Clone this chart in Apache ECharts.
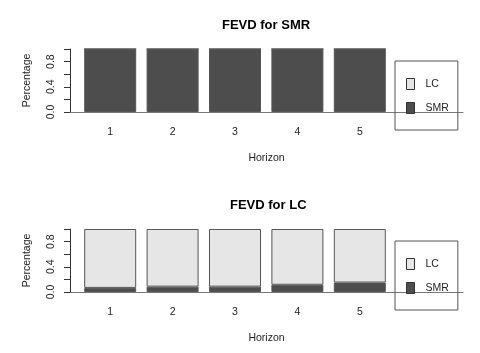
<!DOCTYPE html>
<html>
<head>
<meta charset="utf-8">
<script src="https://cdn.jsdelivr.net/npm/echarts@6/dist/echarts.min.js"></script>
<style>html,body{margin:0;padding:0;background:#fff;}#c{width:480px;height:353px;}</style>
</head>
<body>
<div id="c"></div>
<script>
const horizons = ['1', '2', '3', '4', '5'];
const seriesNames = ['LC', 'SMR'];
const titles = ['FEVD for SMR', 'FEVD for LC'];
// panel 1: FEVD for SMR
const smrPanelSMR = [1, 1, 1, 1, 1];
const smrPanelLC = [0, 0, 0, 0, 0];
// panel 2: FEVD for LC
const lcPanelSMR = [0.065, 0.085, 0.085, 0.115, 0.15];
const lcPanelLC = [0.935, 0.915, 0.915, 0.885, 0.85];
const yTickLabels = ['0.0', '', '0.4', '', '0.8', ''];

const DARK = '#4d4d4d', LIGHT = '#e6e6e6', EDGE = '#555';
const FONT = 'Liberation Sans, Arial, sans-serif';
const chart = echarts.init(document.getElementById('c'), null, {renderer: 'canvas'});

const gridTops = [49, 229];
const panels = [
  {smr: smrPanelSMR, lc: smrPanelLC},
  {smr: lcPanelSMR, lc: lcPanelLC}
];

const grids = [], xAxes = [], yAxes = [], series = [], titleOpts = [], legends = [];
panels.forEach((p, i) => {
  const frameIdx = grids.length;
  // frame grid: y axis, baseline, axis names
  grids.push({left: 70, right: 17, top: gridTops[i], height: 63});
  xAxes.push({
    type: 'value', gridIndex: frameIdx, min: 0, max: 1,
    name: 'Horizon', nameLocation: 'middle', nameGap: 41,
    nameTextStyle: {fontFamily: FONT, fontSize: 10.5, color: '#222'},
    axisLine: {show: true, onZero: false, lineStyle: {color: '#777', width: 1}},
    axisTick: {show: false}, axisLabel: {show: false}, splitLine: {show: false}
  });
  yAxes.push({
    type: 'value', gridIndex: frameIdx, min: 0, max: 1, interval: 0.2,
    name: 'Percentage', nameLocation: 'middle', nameGap: 37, nameRotate: 90,
    nameTextStyle: {fontFamily: FONT, fontSize: 10.5, color: '#222'},
    axisLine: {show: true, lineStyle: {color: '#333', width: 1}},
    axisTick: {show: true, length: 6, lineStyle: {color: '#333'}},
    splitLine: {show: false},
    axisLabel: {
      rotate: 90, margin: 13, fontFamily: FONT, fontSize: 10.5, color: '#222',
      formatter: v => yTickLabels[Math.round(v / 0.2)] || ''
    }
  });
  // bar grid
  const barIdx = grids.length;
  grids.push({left: 79, right: 89, top: gridTops[i], height: 63});
  xAxes.push({
    type: 'category', gridIndex: barIdx, data: horizons,
    axisLine: {show: false}, axisTick: {show: false}, splitLine: {show: false},
    axisLabel: {margin: 15, fontFamily: FONT, fontSize: 10.5, color: '#222'}
  });
  yAxes.push({
    type: 'value', gridIndex: barIdx, min: 0, max: 1, show: false
  });
  series.push({
    name: 'SMR', type: 'bar', xAxisIndex: barIdx, yAxisIndex: barIdx, stack: 'p' + i,
    barWidth: 52, data: p.smr,
    itemStyle: {color: DARK, borderColor: EDGE, borderWidth: 1},
    silent: true
  });
  series.push({
    name: 'LC', type: 'bar', xAxisIndex: barIdx, yAxisIndex: barIdx, stack: 'p' + i,
    barWidth: 52, data: p.lc,
    itemStyle: {color: LIGHT, borderColor: EDGE, borderWidth: 1},
    silent: true
  });
  titleOpts.push({
    text: titles[i], left: i === 0 ? 217 : 225, top: gridTops[i] - 35,
    textStyle: {fontFamily: FONT, fontSize: 13, fontWeight: 'bold', color: '#000'}
  });
  legends.push({
    data: seriesNames, orient: 'vertical', left: 395, top: gridTops[i] + 12,
    padding: [17, 9, 16, 11], itemGap: 12, itemWidth: 8, itemHeight: 11,
    icon: 'rect', borderColor: '#555', borderWidth: 1, selectedMode: false,
    textStyle: {fontFamily: FONT, fontSize: 10.5, color: '#222', padding: [0, 0, 0, 6]},
    itemStyle: {borderColor: '#333', borderWidth: 1}
  });
});

chart.setOption({
  animation: false,
  backgroundColor: '#fff',
  title: titleOpts,
  legend: legends,
  grid: grids,
  xAxis: xAxes,
  yAxis: yAxes,
  series: series
});
</script>
</body>
</html>
